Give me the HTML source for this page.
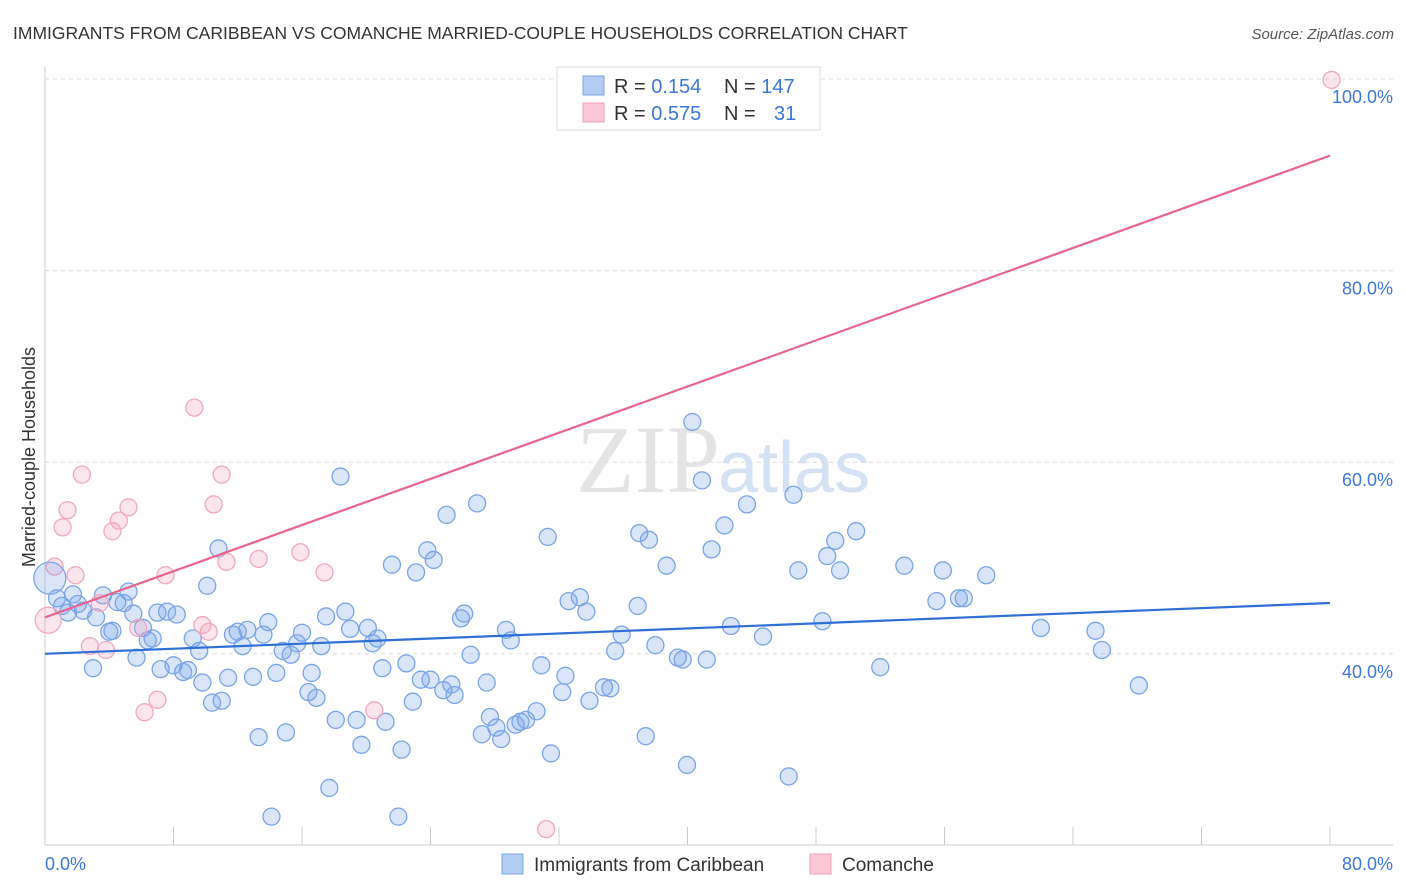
<!DOCTYPE html>
<html><head><meta charset="utf-8"><style>
body{margin:0;background:#fff;font-family:"Liberation Sans",sans-serif;}
svg{display:block}
</style></head><body>
<svg id="chart" width="1406" height="892" xmlns="http://www.w3.org/2000/svg">
<text x="13" y="39" font-size="17.5" fill="#333">IMMIGRANTS FROM CARIBBEAN VS COMANCHE MARRIED-COUPLE HOUSEHOLDS CORRELATION CHART</text>
<text x="1394" y="39" font-size="15" fill="#555" font-style="italic" text-anchor="end">Source: ZipAtlas.com</text>
<text x="720" y="492" font-size="96" fill="#e4e4e4" text-anchor="end" font-family="Liberation Serif,serif">ZIP</text>
<text x="718" y="492" font-size="72" fill="#d5e2f3">atlas</text>
<g id="grid"></g>
<g id="axes"></g>
<g id="pts"></g>
<g id="lines"></g>
<text x="35" y="457" font-size="18" fill="#333" text-anchor="middle" transform="rotate(-90 35 457)">Married-couple Households</text>
<text x="45" y="870" font-size="18" fill="#3b78d8">0.0%</text>
<text x="1393" y="870" font-size="18" fill="#3b78d8" text-anchor="end">80.0%</text>
<g>
<rect x="557" y="67" width="263" height="63" fill="#fff" stroke="#ddd"/>
<rect x="583" y="76" width="21" height="19" fill="#b3cdf2" stroke="#7aa4e6"/>
<rect x="583" y="103" width="21" height="19" fill="#fbc6d6" stroke="#f0a0bb"/>
<text x="614" y="93" font-size="20" fill="#333">R = <tspan fill="#3b78d8">0.154</tspan><tspan x="724">N = </tspan><tspan fill="#3b78d8">147</tspan></text>
<text x="614" y="120" font-size="20" fill="#333">R = <tspan fill="#3b78d8">0.575</tspan><tspan x="724">N = </tspan><tspan x="774" fill="#3b78d8">31</tspan></text>
</g>
<g>
<rect x="502" y="854" width="21" height="20" fill="#b3cdf2" stroke="#7aa4e6"/>
<text x="534" y="871" font-size="19" fill="#333">Immigrants from Caribbean</text>
<rect x="810" y="854" width="21" height="20" fill="#fbc6d6" stroke="#f0a0bb"/>
<text x="842" y="871" font-size="19" fill="#333">Comanche</text>
</g>
</svg>
<script>
const yTicks=[100,80,60,40];
const yTickLabels=["100.0%","80.0%","60.0%","40.0%"];
const blueX=[0.75,1.06,1.43,1.74,2.05,2.37,2.99,3.18,3.61,4.0,4.2,4.5,4.9,5.2,5.5,5.7,6.1,6.4,6.7,7.0,7.2,7.6,8.0,8.2,8.6,8.9,9.2,9.6,9.8,10.1,10.4,10.8,11.0,11.4,11.7,12.0,12.3,12.6,12.95,13.3,13.6,13.9,14.4,14.8,15.0,15.3,15.7,16.0,16.4,16.6,16.9,17.2,17.5,17.7,18.1,18.4,18.7,19.0,19.4,19.7,20.1,20.4,20.7,21.0,21.2,21.6,22.0,22.2,22.5,22.9,23.1,23.4,23.8,24.2,24.0,24.8,25.0,25.3,25.5,25.9,26.1,26.5,26.9,27.2,27.5,27.7,28.1,28.4,28.7,29.0,29.3,29.6,29.95,30.6,30.9,31.3,31.5,32.2,32.4,32.6,33.3,33.7,33.9,34.8,35.2,35.5,35.9,36.9,37.0,37.4,37.6,38.0,38.7,39.4,39.7,39.97,40.3,40.9,41.2,41.5,42.3,42.7,43.7,44.7,46.3,46.6,46.9,48.4,48.7,49.2,49.5,50.5,52.0,53.5,55.5,55.9,56.9,57.2,58.6,62.0,65.4,65.8,68.1,14.1];
const blueY=[45.8,45.0,44.3,46.2,45.2,44.5,38.5,43.8,46.1,42.3,42.4,45.4,45.3,46.5,44.2,39.6,42.7,41.4,41.6,44.3,38.4,44.4,38.8,44.1,38.1,38.3,41.6,40.3,37.0,47.1,34.9,51.0,35.1,37.5,42.0,42.3,40.8,42.5,37.6,31.3,42.0,43.3,38.0,40.3,31.8,39.9,41.1,42.2,36.0,38.0,35.4,40.8,43.9,26.0,33.1,58.5,44.4,42.6,33.1,30.5,42.7,41.1,41.6,38.5,32.9,49.3,23.0,30.0,39.0,35.0,48.5,37.3,50.8,49.8,37.3,36.2,54.5,36.8,35.7,43.7,44.2,39.9,55.7,31.6,37.0,33.4,32.3,31.1,42.5,41.4,32.6,32.9,33.1,34.0,38.8,52.2,29.6,36.0,37.7,45.5,45.9,44.4,35.1,36.5,36.4,40.3,42.0,45.0,52.6,31.4,51.9,40.9,49.2,39.6,39.4,28.4,64.2,58.1,39.4,50.9,53.4,42.9,55.6,41.8,27.2,56.6,48.7,43.4,50.2,51.8,48.7,52.8,38.6,49.2,45.5,48.7,45.8,45.8,48.2,42.7,42.4,40.4,36.7,23.0];
const pinkX=[0.6,1.1,1.4,1.9,2.3,2.8,3.4,3.8,4.2,4.6,5.2,5.8,6.2,7.0,7.5,9.3,9.8,10.2,10.5,11.0,11.3,13.3,15.9,17.4,20.5,31.2,33.2,80.1];
const pinkY=[49.1,53.2,55.0,48.2,58.7,40.8,45.3,40.4,52.8,53.9,55.3,42.7,33.9,35.2,48.2,65.7,43.0,42.3,55.6,58.7,49.6,49.9,50.6,48.5,34.1,21.7,100.1,99.9];
const bigBlue=[0.3,47.9], bigPink=[0.2,43.5];
const blueTrend=[40.0,45.3], pinkTrend=[43.8,92.0];
const X0=45,X1=1330,XMAX=80;
function sx(v){return X0+(X1-X0)*v/XMAX;}
function sy(v){return 79+(100-v)*9.58;}
const NS="http://www.w3.org/2000/svg";
function mk(tag,attrs,parent){const e=document.createElementNS(NS,tag);for(const k in attrs)e.setAttribute(k,attrs[k]);document.getElementById(parent).appendChild(e);return e;}
yTicks.forEach((t,i)=>{
  const l=mk('line',{x1:45,x2:1393,y1:sy(t),y2:sy(t),stroke:'#ddd','stroke-dasharray':'4,4'},'grid');
  
  
  const tx=mk('text',{x:1393,y:sy(t)+24,'font-size':18,fill:'#3b78d8','text-anchor':'end'},'grid');
  tx.textContent=yTickLabels[i];
  
  
});
let a=mk('line',{x1:45,x2:45,y1:67,y2:845,stroke:'#ccc'},'axes');


a=mk('line',{x1:45,x2:1393,y1:845,y2:845,stroke:'#ccc'},'axes');


for(let i=0;i<=10;i++){
  const t=mk('line',{x1:sx(i*8),x2:sx(i*8),y1:827,y2:845,stroke:'#ccc'},'axes');
  
  
}
function dot(x,y,r,blue){
  const c=mk('circle',{cx:sx(x),cy:sy(y),r:r,fill:blue?'rgba(120,165,235,0.28)':'rgba(245,160,190,0.28)',stroke:blue?'#7aa4e6':'#f0a8c0','stroke-width':1.3},'pts');
  
  
}
blueX.forEach((x,i)=>dot(x,blueY[i],8.5,true));
pinkX.forEach((x,i)=>dot(x,pinkY[i],8.5,false));
dot(bigBlue[0],bigBlue[1],16,true);
dot(bigPink[0],bigPink[1],13,false);
let tl=mk('line',{x1:sx(0),y1:sy(blueTrend[0]),x2:sx(80),y2:sy(blueTrend[1]),stroke:'#2f6fd6','stroke-width':2.2},'lines');


tl=mk('line',{x1:sx(0),y1:sy(pinkTrend[0]),x2:sx(80),y2:sy(pinkTrend[1]),stroke:'#e8648f','stroke-width':2.2},'lines');


</script>
</body></html>
